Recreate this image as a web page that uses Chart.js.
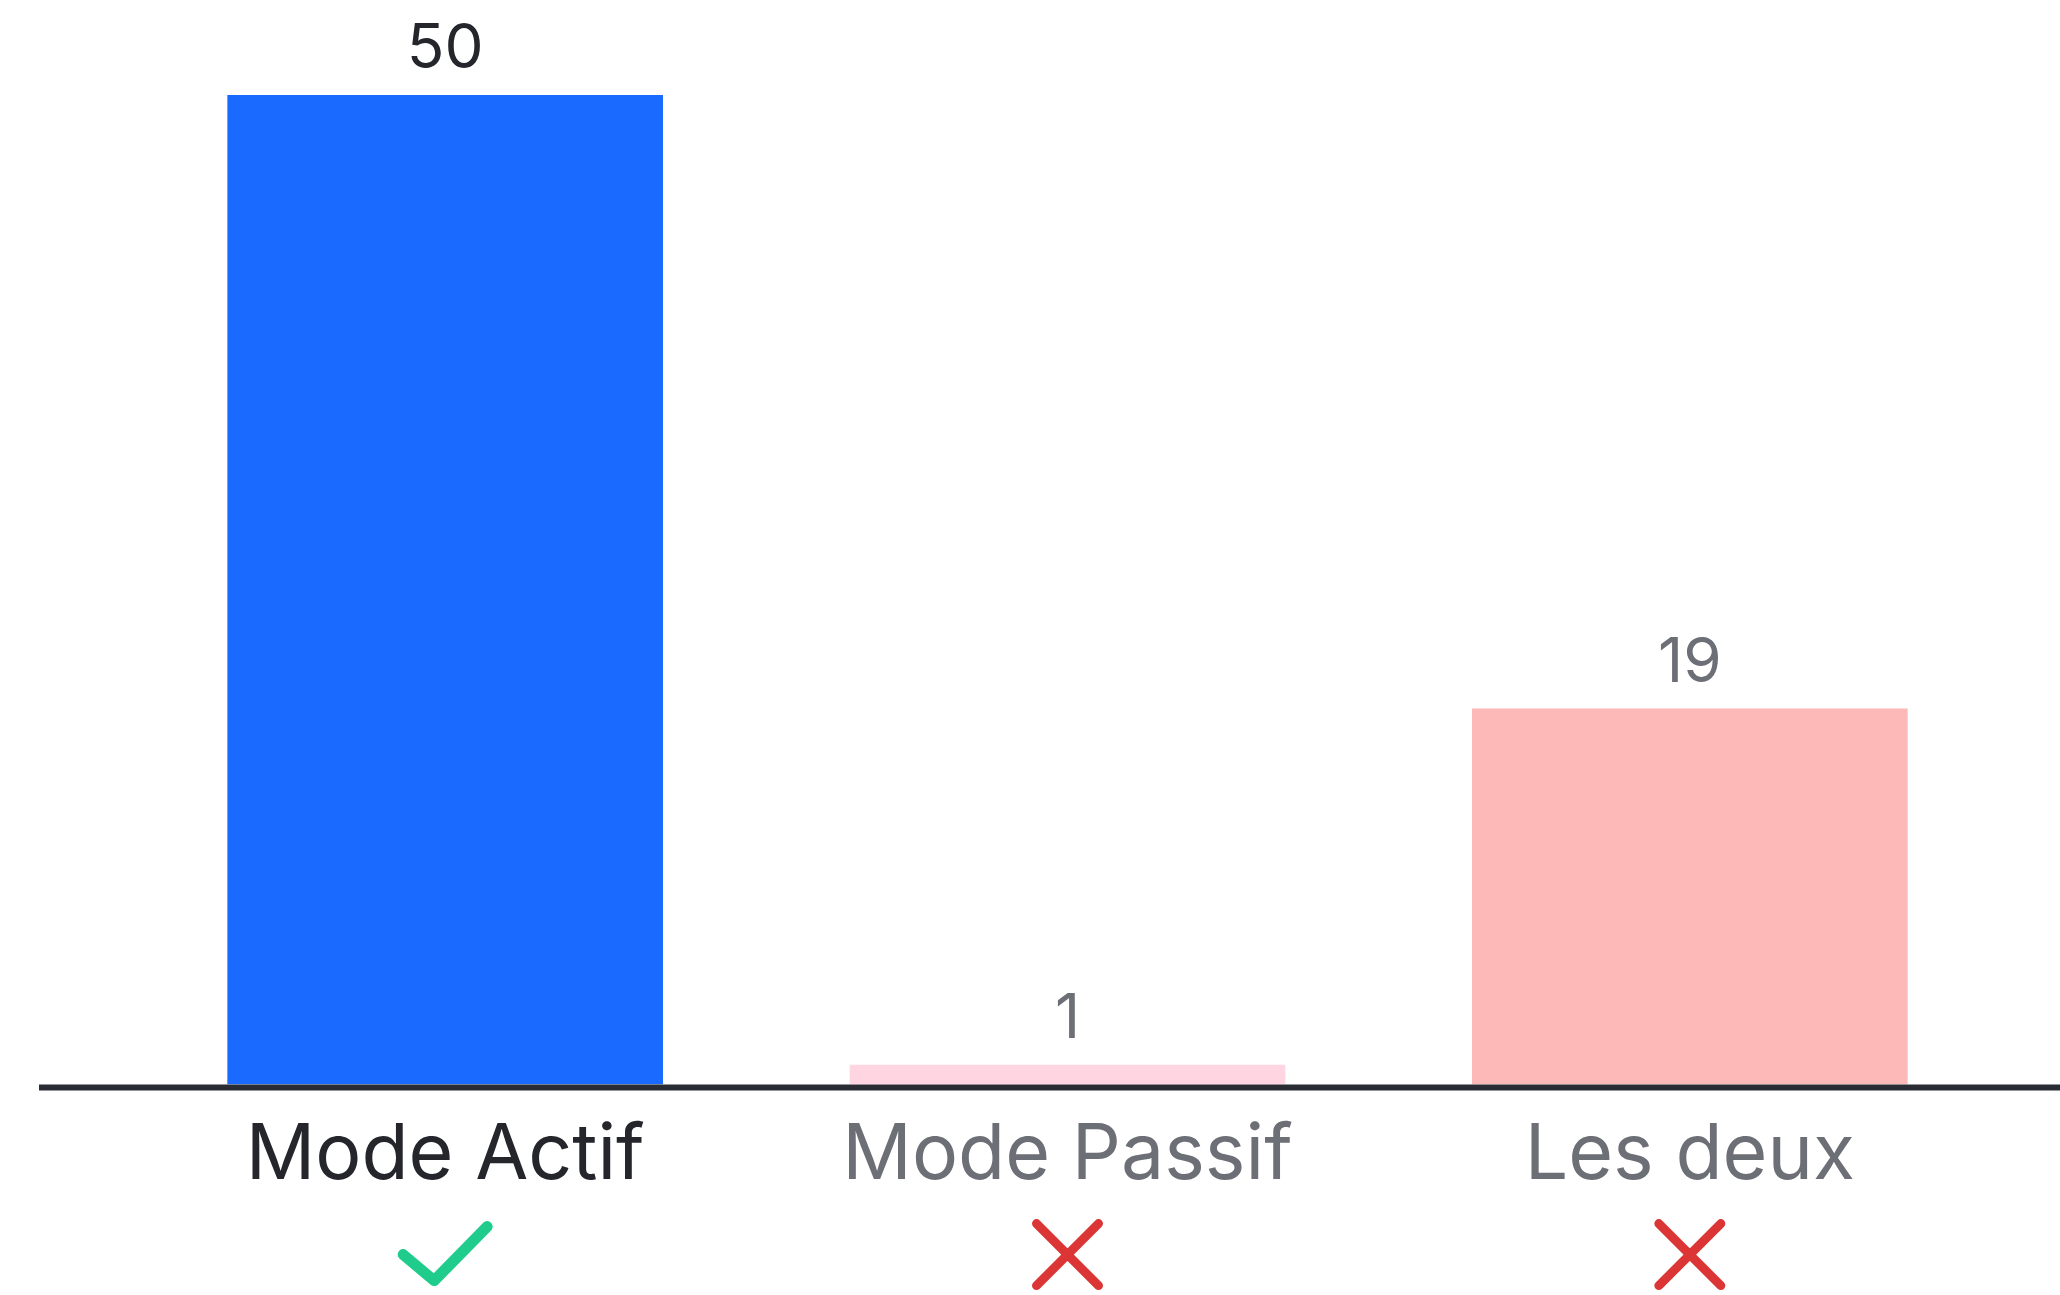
<!DOCTYPE html>
<html>
<head>
<meta charset="utf-8">
<title>Mode Actif / Mode Passif</title>
<script src="https://cdn.jsdelivr.net/npm/chart.js@4.4.0/dist/chart.umd.min.js"></script>
<style>
  html, body { margin: 0; padding: 0; background: #fff; }
  #wrap { width: 2060px; height: 1295px; }
</style>
</head>
<body>
<div id="wrap"><canvas id="modeChart"></canvas></div>
<script>
const categories = ['Mode Actif', 'Mode Passif', 'Les deux'];
const votes = [50, 1, 19];
const barColors = ['#1a6aff', '#ffd5e1', '#fdb8b8'];
const textColors = ['#24262c', '#6c6f76', '#6c6f76'];
// true = correct answer (green tick), false = red cross
const correct = [true, false, false];

const fontName = 'Inter, "Noto Sans", sans-serif';

// value above each bar
const valueLabels = {
  id: 'valueLabels',
  afterDatasetsDraw(chart) {
    const ctx = chart.ctx;
    const meta = chart.getDatasetMeta(0);
    ctx.save();
    ctx.font = '62px ' + fontName;
    ctx.textAlign = 'center';
    ctx.textBaseline = 'alphabetic';
    meta.data.forEach((bar, i) => {
      ctx.fillStyle = textColors[i];
      ctx.fillText(String(votes[i]), bar.x, bar.y - 27);
    });
    ctx.restore();
  }
};

// long baseline + tick / cross icons under the labels
const baseAndIcons = {
  id: 'baseAndIcons',
  afterDraw(chart) {
    const ctx = chart.ctx;
    const area = chart.chartArea;
    const xs = chart.scales.x;
    ctx.save();
    ctx.strokeStyle = '#2a2c33';
    ctx.lineWidth = 6;
    ctx.beginPath();
    ctx.moveTo(39, area.bottom + 3);
    ctx.lineTo(chart.width, area.bottom + 3);
    ctx.stroke();

    ctx.lineCap = 'round';
    ctx.lineJoin = 'round';
    const cy = area.bottom + 170;
    categories.forEach((c, i) => {
      const cx = xs.getPixelForValue(i);
      ctx.beginPath();
      if (correct[i]) {
        ctx.strokeStyle = '#1fcc8c';
        ctx.lineWidth = 11;
        ctx.moveTo(cx - 42, cy);
        ctx.lineTo(cx - 11, cy + 26);
        ctx.lineTo(cx + 42, cy - 28);
      } else {
        ctx.strokeStyle = '#dc3535';
        ctx.lineWidth = 9;
        ctx.moveTo(cx - 31, cy - 31);
        ctx.lineTo(cx + 31, cy + 31);
        ctx.moveTo(cx + 31, cy - 31);
        ctx.lineTo(cx - 31, cy + 31);
      }
      ctx.stroke();
    });
    ctx.restore();
  }
};

new Chart(document.getElementById('modeChart'), {
  type: 'bar',
  data: {
    labels: categories,
    datasets: [{
      label: 'Votes',
      data: votes,
      backgroundColor: barColors,
      borderWidth: 0,
      categoryPercentage: 1,
      barPercentage: 0.7
    }]
  },
  options: {
    responsive: true,
    maintainAspectRatio: false,
    animation: false,
    layout: {
      padding: { top: 95, left: 134, right: 59, bottom: 68 }
    },
    plugins: {
      legend: { display: false },
      tooltip: { enabled: false }
    },
    scales: {
      x: {
        grid: { display: false, drawTicks: false },
        border: { display: false },
        ticks: {
          padding: 25,
          color: (c) => textColors[c.index],
          font: { family: fontName, size: 77 }
        }
      },
      y: {
        display: false,
        min: 0,
        max: 50
      }
    }
  },
  plugins: [valueLabels, baseAndIcons]
});
</script>
</body>
</html>
